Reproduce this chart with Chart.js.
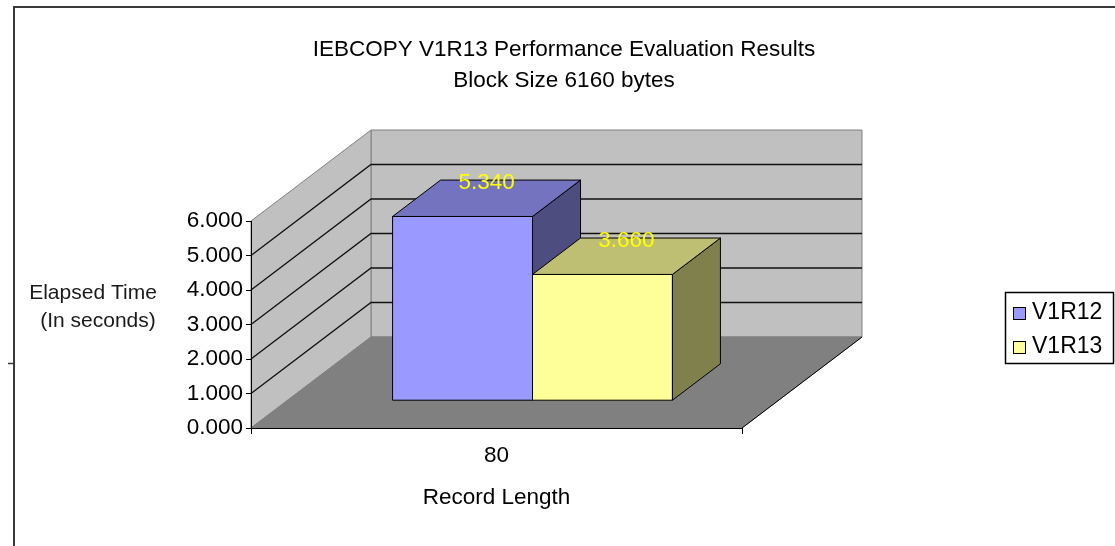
<!DOCTYPE html>
<html><head><meta charset="utf-8">
<script src="https://cdn.jsdelivr.net/npm/chart.js@4/dist/chart.umd.min.js"></script>
<style>html,body{margin:0;padding:0;background:#fff;overflow:hidden}canvas{display:block}</style>
</head><body>
<canvas id="c" width="1115" height="546"></canvas>
<script>
// ---- data ----
const titleLines = ['IEBCOPY V1R13 Performance Evaluation Results', 'Block Size 6160 bytes'];
const categories = ['80'];
const seriesNames = ['V1R12', 'V1R13'];
const v1r12Values = [5.340];
const v1r13Values = [3.660];
const yTickValues = [0, 1, 2, 3, 4, 5, 6];
const yAxisTitle = ['Elapsed Time', '(In seconds)'];
const xAxisTitle = 'Record Length';

// ---- style ----
const FONT = "'Liberation Sans', Arial, sans-serif";
const FS = 22.5;
const DEPTH = {dx: 120, dy: -91};
const BAR_FRONT = 0.3, BAR_BACK = 0.7;
const FACES = [
  {front: '#9999ff', top: '#7373bf', side: '#4d4d80'},
  {front: '#ffff99', top: '#bfbf73', side: '#80804d'}
];

function poly(ctx, pts, fill, stroke) {
  ctx.beginPath();
  ctx.moveTo(pts[0][0], pts[0][1]);
  for (let i = 1; i < pts.length; i++) ctx.lineTo(pts[i][0], pts[i][1]);
  ctx.closePath();
  if (fill) { ctx.fillStyle = fill; ctx.fill(); }
  if (stroke) { ctx.strokeStyle = stroke; ctx.lineWidth = 1; ctx.stroke(); }
}

const threeD = {
  id: 'threeD',
  beforeDraw(chart) {
    const {ctx, chartArea: a, scales: {y}} = chart;
    const L = a.left, R = a.right, T = a.top, B = a.bottom, dx = DEPTH.dx, dy = DEPTH.dy;
    ctx.save();
    // outer frame
    ctx.strokeStyle = '#3a3a3a'; ctx.lineWidth = 2;
    ctx.beginPath(); ctx.moveTo(14, 546); ctx.lineTo(14, 7); ctx.lineTo(1115, 7); ctx.stroke();
    ctx.lineWidth = 1.5;
    ctx.beginPath(); ctx.moveTo(8, 363.5); ctx.lineTo(14, 363.5); ctx.stroke();
    // title
    ctx.fillStyle = '#000'; ctx.font = FS + 'px ' + FONT; ctx.textAlign = 'center'; ctx.textBaseline = 'middle';
    ctx.fillText(titleLines[0], 564, 50);
    ctx.fillText(titleLines[1], 564, 81);
    // y axis title
    ctx.font = '21px ' + FONT;
    ctx.fillStyle = '#1a1a1a';
    ctx.fillText(yAxisTitle[0], 93, 293);
    ctx.fillText(yAxisTitle[1], 98, 321);
    // walls & floor
    poly(ctx, [[L + dx, T + dy], [R + dx, T + dy], [R + dx, B + dy], [L + dx, B + dy]], '#c0c0c0', '#808080');
    poly(ctx, [[L, B], [L, T], [L + dx, T + dy], [L + dx, B + dy]], '#c0c0c0', '#808080');
    poly(ctx, [[L, B], [R, B], [R + dx, B + dy], [L + dx, B + dy]], '#808080', '#808080');
    ctx.strokeStyle = '#000'; ctx.lineWidth = 1;
    ctx.beginPath(); ctx.moveTo(R, B); ctx.lineTo(R + dx, B + dy); ctx.stroke();
    // wall gridlines
    ctx.strokeStyle = '#111'; ctx.lineWidth = 1.3;
    yTickValues.forEach(v => {
      if (v === y.min || v === y.max) return;
      const p = y.getPixelForValue(v);
      ctx.beginPath();
      ctx.moveTo(L, p); ctx.lineTo(L + dx, p + dy); ctx.lineTo(R + dx, p + dy);
      ctx.stroke();
    });
    // legend
    ctx.strokeStyle = '#000'; ctx.lineWidth = 1.5;
    ctx.strokeRect(1005.5, 292.5, 108, 71);
    ctx.font = '23px ' + FONT; ctx.textAlign = 'left'; ctx.textBaseline = 'middle';
    chart.data.datasets.forEach((ds, i) => {
      const cy = 313 + i * 34;
      ctx.fillStyle = FACES[i].front;
      ctx.fillRect(1013.5, cy - 5.5, 12, 12);
      ctx.lineWidth = 1; ctx.strokeStyle = '#000';
      ctx.strokeRect(1013.5, cy - 5.5, 12, 12);
      ctx.fillStyle = '#000';
      ctx.fillText(ds.label, 1032, cy);
    });
    ctx.restore();
  },
  beforeDatasetsDraw(chart) {
    const ctx = chart.ctx;
    const fx = DEPTH.dx * BAR_FRONT, fy = DEPTH.dy * BAR_FRONT;
    const bx = DEPTH.dx * BAR_BACK, by = DEPTH.dy * BAR_BACK;
    const mx = DEPTH.dx * 0.5, my = DEPTH.dy * 0.5;
    const labels = [];
    ctx.save();
    chart.data.datasets.forEach((ds, i) => {
      const meta = chart.getDatasetMeta(i);
      const f = FACES[i];
      meta.data.forEach((bar, j) => {
        const {x, y, base, width} = bar.getProps(['x', 'y', 'base', 'width'], true);
        const l = x - width / 2, r = x + width / 2;
        poly(ctx, [[l + fx, y + fy], [r + fx, y + fy], [r + fx, base + fy], [l + fx, base + fy]], f.front, '#000');
        poly(ctx, [[r + fx, y + fy], [r + bx, y + by], [r + bx, base + by], [r + fx, base + fy]], f.side, '#000');
        poly(ctx, [[l + fx, y + fy], [l + bx, y + by], [r + bx, y + by], [r + fx, y + fy]], f.top, '#000');
        labels.push({text: ds.data[j].toFixed(3), x: x + mx, y: y + my - 15});
      });
    });
    ctx.fillStyle = '#ffff00'; ctx.font = FS + 'px ' + FONT; ctx.textAlign = 'center'; ctx.textBaseline = 'middle';
    labels.forEach(lb => ctx.fillText(lb.text, lb.x, lb.y));
    ctx.restore();
    return false;
  }
};

new Chart(document.getElementById('c'), {
  type: 'bar',
  data: {
    labels: categories,
    datasets: [
      {label: seriesNames[0], data: v1r12Values, backgroundColor: FACES[0].front},
      {label: seriesNames[1], data: v1r13Values, backgroundColor: FACES[1].front}
    ]
  },
  options: {
    responsive: false,
    devicePixelRatio: 1,
    animation: false,
    layout: {padding: {top: 221, left: 0, right: 373, bottom: 0}},
    datasets: {bar: {categoryPercentage: 0.57, barPercentage: 1}},
    plugins: {legend: {display: false}, title: {display: false}, tooltip: {enabled: false}},
    scales: {
      x: {
        afterFit(s) { s.height = 118; },
        grid: {drawOnChartArea: false, drawTicks: true, tickLength: 6, color: '#000', offset: true},
        border: {display: true, color: '#000', width: 1},
        ticks: {color: '#000', font: {family: FONT, size: FS}, padding: 8},
        title: {display: true, text: xAxisTitle, color: '#000', font: {family: FONT, size: FS}, padding: {top: 0, bottom: 34.5}}
      },
      y: {
        min: yTickValues[0], max: yTickValues[yTickValues.length - 1],
        afterFit(s) { s.width = 251; },
        afterBuildTicks(s) { s.ticks = yTickValues.map(v => ({value: v})); },
        grid: {drawOnChartArea: false, drawTicks: true, tickLength: 5, color: '#000'},
        border: {display: true, color: '#000', width: 1},
        ticks: {color: '#000', font: {family: FONT, size: FS}, padding: 3, callback: v => Number(v).toFixed(3)}
      }
    }
  },
  plugins: [threeD]
});
</script>
</body></html>
